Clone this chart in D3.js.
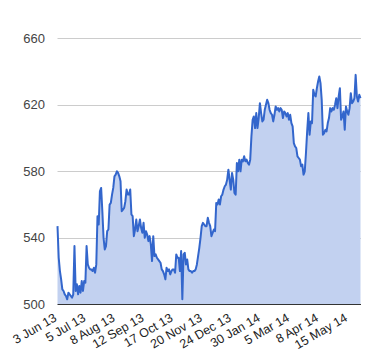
<!DOCTYPE html>
<html><head><meta charset="utf-8">
<script src="https://cdn.jsdelivr.net/npm/d3@7"></script>
<style>body{margin:0;background:#fff;}svg{display:block;}</style>
</head><body>
<svg id="c" width="380" height="360"></svg>
<script>
const values = [
547,528,520,515,509,508,506,505,503,507,506,505,504,506,535,508,512,506,511,507,
514,508,514,513,535,524,522,521,521,520,522,519,524,553,548,568,570,556,540,533,
535,544,545,560,561,566,570,577,578,580,579,577,574,556,557,558,562,569,566,566,
569,554,553,541,545,551,544,547,551,546,543,549,540,544,542,538,541,536,526,541,
529,530,528,527,526,525,521,520,518,515,522,520,521,518,520,521,521,519,530,528,
528,520,532,503,530,531,524,527,521,520,520,519,520,520,521,524,529,534,540,547,
549,548,547,547,552,549,547,541,543,545,544,561,560,563,560,565,566,569,571,572,
575,581,575,569,579,575,567,566,585,580,587,580,587,586,589,586,587,585,584,587,
601,611,613,606,615,606,612,621,615,610,611,617,620,623,621,617,615,614,610,614,
619,617,618,616,618,617,612,616,615,613,615,611,614,609,607,597,595,594,589,588,
587,583,584,578,580,591,604,615,602,610,609,629,626,625,630,634,637,633,623,602,
603,605,604,609,612,618,616,618,617,620,624,618,625,630,611,613,616,605,619,616,
614,618,627,621,622,624,638,625,622,626,624
];
const xLabels = ["3 Jun 13","5 Jul 13","8 Aug 13","12 Sep 13","17 Oct 13","20 Nov 13",
  "24 Dec 13","30 Jan 14","5 Mar 14","8 Apr 14","15 May 14"];
const labelStep = 24;
const yTicks = [500,540,580,620,660];

const svg = d3.select("#c");
const mLeft = 57.5, mRight = 360.5, mTop = 38.3, mBottom = 304.3;
const x = d3.scaleLinear().domain([0, values.length - 1]).range([mLeft, mRight]);
const y = d3.scaleLinear().domain([500, 660]).range([mBottom, mTop]);

// gridlines
svg.append("g").selectAll("line").data(yTicks.slice(1)).join("line")
  .attr("x1", mLeft).attr("x2", mRight + 0.5)
  .attr("y1", d => Math.round(y(d)) + 0.5).attr("y2", d => Math.round(y(d)) + 0.5)
  .attr("stroke", "#cccccc").attr("stroke-width", 1);

// area
svg.append("path").datum(values)
  .attr("d", d3.area().x((d, i) => x(i)).y0(y(500)).y1(d => y(d)))
  .attr("fill", "#c2d1f0");

// line
svg.append("path").datum(values)
  .attr("d", d3.line().x((d, i) => x(i)).y(d => y(d)))
  .attr("fill", "none").attr("stroke", "#3366cc").attr("stroke-width", 2)
  .attr("stroke-linejoin", "round");

// baseline
svg.append("line").attr("x1", mLeft).attr("x2", mRight + 0.5)
  .attr("y1", Math.round(y(500)) + 0.5).attr("y2", Math.round(y(500)) + 0.5)
  .attr("stroke", "#333333").attr("stroke-width", 1);

// y labels
svg.append("g").selectAll("text").data(yTicks).join("text")
  .attr("x", 45).attr("y", d => y(d)).attr("dy", "0.35em")
  .attr("text-anchor", "end")
  .attr("font-family", "Liberation Sans, Arial, sans-serif").attr("font-size", 13)
  .attr("fill", "#444444").text(d => d);

// x labels
svg.append("g").selectAll("text").data(xLabels).join("text")
  .attr("transform", (d, k) => `translate(${x(k * labelStep)},${mBottom + 16}) rotate(-30)`)
  .attr("text-anchor", "end")
  .attr("font-family", "Liberation Sans, Arial, sans-serif").attr("font-size", 12.5)
  .attr("fill", "#222222").text(d => d);
</script>
</body></html>
